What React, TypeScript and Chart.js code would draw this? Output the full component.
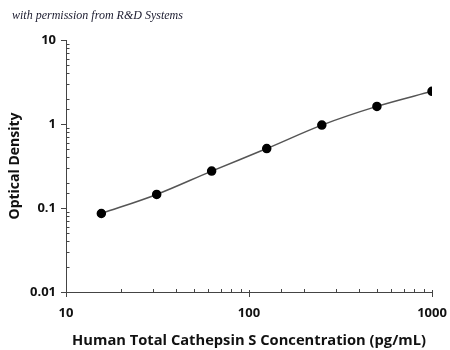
import React, { useEffect, useRef } from "react";
import { Chart, registerables } from "chart.js";

Chart.register(...registerables);

const concentrations = [15.6, 31.3, 62.5, 125, 250, 500, 1000];
const opticalDensity = [0.086, 0.145, 0.275, 0.51, 0.97, 1.62, 2.45];
const xTickLabels = [10, 100, 1000];
const yTickLabels = [0.01, 0.1, 1, 10];
const watermark = "with permission from R&D Systems";
const xTitle = "Human Total Cathepsin S Concentration (pg/mL)";
const yTitle = "Optical Density";

const isPow10 = (v: number) => Math.abs(Math.log10(v) - Math.round(Math.log10(v))) < 1e-9;

const axesPlugin = {
  id: "customAxes",
  afterDraw(chart: any) {
    const ctx = chart.ctx;
    const { left, right, top, bottom } = chart.chartArea;
    const xs = chart.scales.x;
    const ys = chart.scales.y;
    ctx.save();
    ctx.strokeStyle = "#444";
    ctx.lineWidth = 1;
    ctx.beginPath();
    ctx.moveTo(left + 0.5, top);
    ctx.lineTo(left + 0.5, bottom + 0.5);
    ctx.lineTo(right, bottom + 0.5);
    ctx.stroke();
    ctx.beginPath();
    ys.ticks.forEach((t: any) => {
      const py = Math.round(ys.getPixelForValue(t.value)) + 0.5;
      if (isPow10(t.value)) {
        ctx.moveTo(left - 5, py);
        ctx.lineTo(left + 0.5, py);
      } else {
        ctx.moveTo(left, py);
        ctx.lineTo(left + 3.5, py);
      }
    });
    xs.ticks.forEach((t: any) => {
      const px = Math.round(xs.getPixelForValue(t.value)) + 0.5;
      if (isPow10(t.value)) {
        ctx.moveTo(px, bottom + 5);
        ctx.lineTo(px, bottom - 2);
      } else {
        ctx.moveTo(px, bottom);
        ctx.lineTo(px, bottom - 3);
      }
    });
    ctx.stroke();
    ctx.fillStyle = "#1a1a2e";
    ctx.font = "italic 12px 'Liberation Serif'";
    ctx.textAlign = "left";
    ctx.textBaseline = "alphabetic";
    ctx.fillText(watermark, 12, 19);
    ctx.restore();
  },
};

export default function App() {
  const ref = useRef<HTMLCanvasElement | null>(null);
  useEffect(() => {
    if (!ref.current) return;
    const chart = new Chart(ref.current, {
      type: "line",
      data: {
        datasets: [
          {
            data: concentrations.map((c, i) => ({ x: c, y: opticalDensity[i] })),
            borderColor: "#555555",
            borderWidth: 1.5,
            pointBackgroundColor: "#000",
            pointBorderColor: "#000",
            pointRadius: 4,
            cubicInterpolationMode: "monotone",
            fill: false,
          },
        ],
      },
      options: {
        animation: false,
        responsive: false,
        layout: { padding: { top: 40, right: 0, left: 0, bottom: 0 } },
        plugins: { legend: { display: false }, tooltip: { enabled: false } },
        scales: {
          x: {
            type: "logarithmic",
            min: 10,
            max: 1000,
            grid: { display: false, drawTicks: false },
            border: { display: false },
            afterFit: (s: any) => {
              s.height = 58;
              s.paddingRight = 18;
              s.paddingLeft = 0;
            },
            ticks: {
              autoSkip: false,
              maxRotation: 0,
              padding: 13,
              color: "#111",
              font: { family: "'Open Sans'", size: 13, weight: "700" },
              callback: (v: any) => (xTickLabels.includes(Number(v)) ? String(v) : ""),
            },
            title: {
              display: true,
              text: xTitle,
              color: "#111",
              font: { family: "'Open Sans'", size: 14.7, weight: "700" },
              padding: { top: 0, bottom: 0 },
            },
          },
          y: {
            type: "logarithmic",
            min: 0.01,
            max: 10,
            grid: { display: false, drawTicks: false },
            border: { display: false },
            afterFit: (s: any) => {
              s.width = 66;
            },
            ticks: {
              autoSkip: false,
              padding: 10,
              color: "#111",
              font: { family: "'Open Sans'", size: 13, weight: "700" },
              callback: (v: any) =>
                yTickLabels.some((t) => Math.abs(t - Number(v)) < 1e-12) ? String(Number(v)) : "",
            },
            title: {
              display: true,
              text: yTitle,
              color: "#111",
              font: { family: "'Open Sans'", size: 14, weight: "700" },
              padding: { top: 7, bottom: 0 },
            },
          },
        },
      },
      plugins: [axesPlugin],
    } as any);
    return () => chart.destroy();
  }, []);
  return (
    <div style={{ position: "fixed", left: 0, top: 0, width: 450, height: 350, background: "#fff" }}>
      <canvas ref={ref} width={450} height={350} style={{ width: 450, height: 350 }} />
    </div>
  );
}
